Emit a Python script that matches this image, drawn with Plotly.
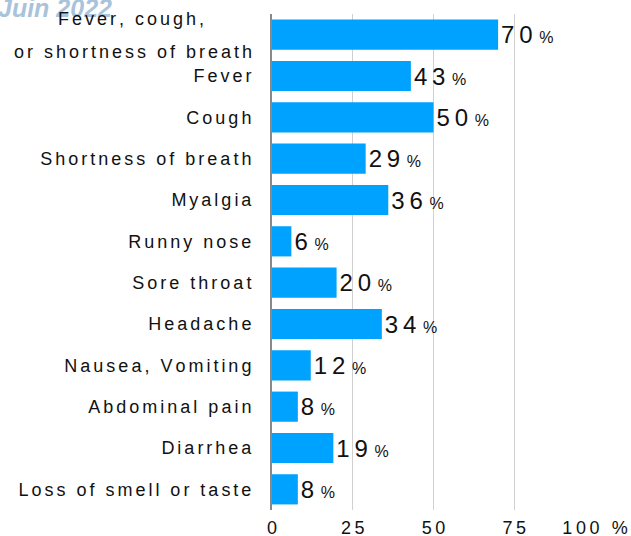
import plotly.graph_objects as go

categories = ["Fever, cough, or shortness of breath", "Fever", "Cough", "Shortness of breath",
              "Myalgia", "Runny nose", "Sore throat", "Headache", "Nausea, Vomiting",
              "Abdominal pain", "Diarrhea", "Loss of smell or taste"]
values = [70, 43, 50, 29, 36, 6, 20, 34, 12, 8, 19, 8]
tick_vals = [0, 25, 50, 75, 100]
tick_text = ["0", "25", "50", "75", "100 %"]

SP = "\u2006"


def spaced(s, sep=SP):
    return sep.join(list(s))


FONT = "Liberation Sans, Arial, sans-serif"
NARROW = "Liberation Sans Narrow, Arial Narrow, Liberation Sans, sans-serif"

bar_text = [
    spaced(str(v), "\u2009") + " <span style='font-size:16px'>%</span>" for v in values
]

y_ticktext = [spaced(c) for c in categories]
y_ticktext[0] = ""

fig = go.Figure(
    go.Bar(
        x=values,
        y=categories,
        orientation="h",
        marker=dict(color="#00A2FF", line=dict(width=0)),
        width=0.73,
        text=bar_text,
        textposition="outside",
        textfont=dict(family=NARROW, size=24, color="#111111"),
        cliponaxis=False,
        hoverinfo="skip",
    )
)

# watermark (drawn first so labels sit on top)
fig.add_annotation(
    x=-0.855, xref="paper", y=1.013, yref="paper", text="<b><i>Juin 2022</i></b>",
    showarrow=False, xanchor="left", yanchor="middle",
    font=dict(family=FONT, size=25, color="#A9C3DB"),
)

# two-line centered label for the first category
fig.add_annotation(
    x=-0.4365, xref="paper", y=categories[0], yref="y",
    text=spaced("Fever, cough,"), showarrow=False, xanchor="center", yanchor="middle",
    yshift=16, font=dict(family=FONT, size=18, color="#111111"),
)
fig.add_annotation(
    x=-0.0557, xref="paper", y=categories[0], yref="y",
    text=spaced("or shortness of breath"), showarrow=False, xanchor="right", yanchor="middle",
    yshift=-17, font=dict(family=FONT, size=18, color="#111111"),
)

fig.update_layout(
    width=631, height=536,
    margin=dict(l=272, r=36, t=14, b=26),
    plot_bgcolor="white", paper_bgcolor="white",
    showlegend=False,
    bargap=0.27,
    xaxis=dict(
        range=[0, 100], tickvals=tick_vals, ticktext=[spaced(t, "\u2009") for t in tick_text],
        showgrid=True, gridcolor="#D0D0D0", gridwidth=1,
        zeroline=False, showline=False, ticks="", automargin=False,
        ticklabelstandoff=5,
        tickfont=dict(family=FONT, size=18, color="#111111"),
        fixedrange=True,
    ),
    yaxis=dict(
        categoryorder="array", categoryarray=categories[::-1],
        range=[-0.5, len(categories) - 0.5], autorange=False,
        tickvals=categories, ticktext=y_ticktext, automargin=False,
        showline=True, linecolor="#888888", linewidth=2,
        ticks="", ticklabelstandoff=15,
        tickfont=dict(family=FONT, size=18, color="#111111"),
        showgrid=False, fixedrange=True,
    ),
)

fig.write_html("out.html", config={"displayModeBar": False},
               post_script="document.body.style.margin='0';")
